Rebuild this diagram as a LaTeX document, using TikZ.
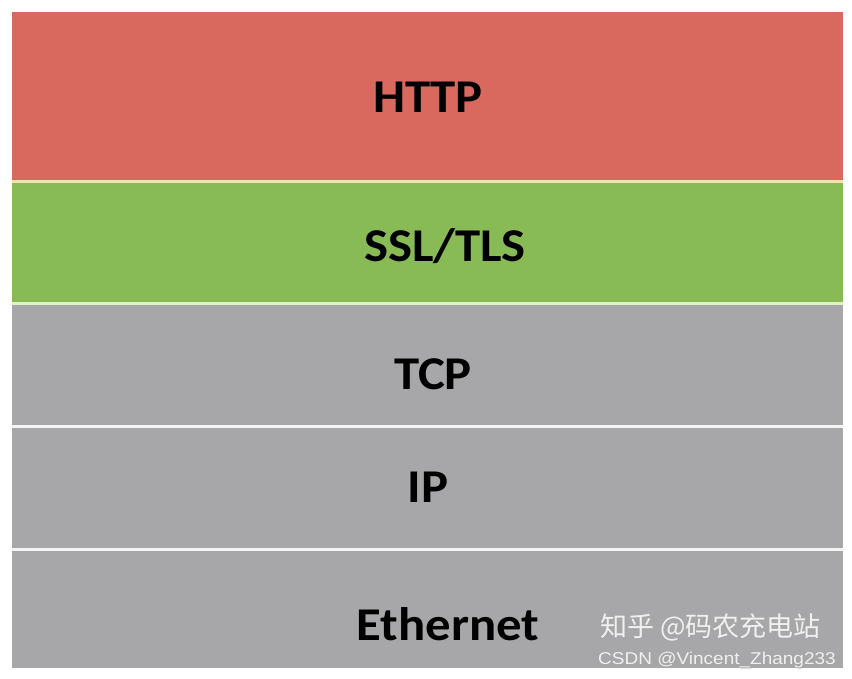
\documentclass[tikz,border=0pt]{standalone}
\usepackage{fontspec}
\setmainfont{Carlito}
\newfontfamily\cjkfont{Noto Sans CJK SC}
\newfontfamily\wmfont{Liberation Sans}
\definecolor{httpred}{HTML}{D9695F}
\definecolor{sslgreen}{HTML}{88BA55}
\definecolor{laygray}{HTML}{A7A7A9}
\definecolor{sepyellow}{HTML}{F2E2B0}
\definecolor{sepgreen}{HTML}{E2F0C8}
\definecolor{sepwhite}{HTML}{F4F4F4}
\definecolor{wmtext}{HTML}{F0F0F0}
\begin{document}
\begin{tikzpicture}[x=1pt,y=-1pt,
  lbl/.style={font=\bfseries\fontsize{47}{50}\selectfont, text=black, inner sep=0pt, anchor=base, xscale=1.08},
  wm/.style={inner sep=0pt, anchor=base west, text=wmtext}]
\useasboundingbox (0,0) rectangle (852,678);
\fill[white] (0,0) rectangle (852,678);
% bands
\fill[httpred] (12,12) rectangle (843,180);
\fill[sepyellow] (12,180) rectangle (843,183);
\fill[sslgreen] (12,183) rectangle (843,302);
\fill[sepgreen] (12,302) rectangle (843,305);
\fill[laygray] (12,305) rectangle (843,425);
\fill[sepwhite] (12,425) rectangle (843,428);
\fill[laygray] (12,428) rectangle (843,548);
\fill[sepwhite] (12,548) rectangle (843,551);
\fill[laygray] (12,551) rectangle (843,668);
% labels
\node[lbl] (http) at (428,112) {HTTP};
\node[lbl] (ssl) at (445,261) {SSL/TLS};
\node[lbl] (tcp) at (433,389) {TCP};
\node[lbl] (ip) at (428,502) {IP};
\node[lbl] (eth) at (448,640) {Ethernet};
% watermark
\node[wm, text=black!35, font=\cjkfont\fontsize{27}{29}\selectfont] (zhs) at (601,637) {知乎 @码农充电站};
\node[wm, font=\cjkfont\fontsize{27}{29}\selectfont] (zh) at (600,636) {知乎 @码农充电站};
\node[wm, text=black!35, font=\wmfont\fontsize{19}{21}\selectfont, yscale=0.9] (csdns) at (599,665) {CSDN @Vincent\_Zhang233};
\node[wm, font=\wmfont\fontsize{19}{21}\selectfont, yscale=0.9] (csdn) at (598,664) {CSDN @Vincent\_Zhang233};
\end{tikzpicture}
\end{document}
